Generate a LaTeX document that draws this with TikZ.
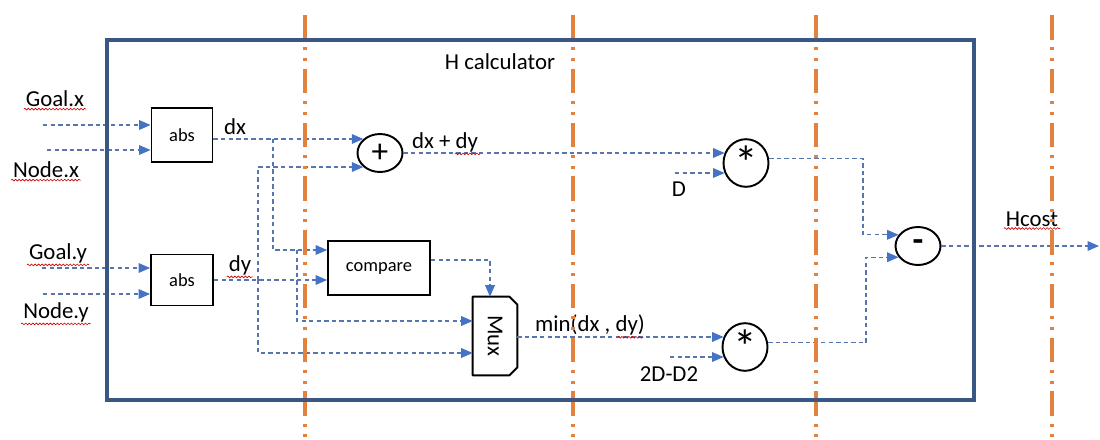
\documentclass[tikz,border=0pt]{standalone}
\usepackage{fontspec}
\setmainfont{Carlito}
\usetikzlibrary{arrows.meta, shapes.geometric, decorations.pathmorphing, calc}
\definecolor{wireblue}{RGB}{68,114,196}
\definecolor{frameblue}{RGB}{58,86,131}
\definecolor{guideorange}{RGB}{226,130,62}

\begin{document}
\begin{tikzpicture}[x=0.02cm, y=-0.02cm,
    blk/.style={draw, line width=1.1pt, inner sep=0pt, font=\fontsize{10.5}{12}\selectfont},
    op/.style={draw, ellipse, line width=1.1pt, minimum width=0.9cm, minimum height=0.76cm, inner sep=0pt, font=\fontsize{19}{19}\selectfont},
    lbl/.style={font=\fontsize{13}{15}\selectfont, inner sep=1pt},
    sig/.style={draw=wireblue!70!gray, line width=0.6pt, dash pattern=on 2.5pt off 1.8pt,
      -{Triangle[length=6.5pt, width=5.5pt, color=wireblue]}},
    spell/.style={draw=red!80!black, line width=0.35pt, decorate, decoration={snake, amplitude=0.5pt, segment length=2pt}},
    guide/.style={draw=guideorange, line width=1.8pt, dash pattern=on 14pt off 4.4pt on 1.7pt off 4.4pt on 1.7pt off 4.4pt},
    frame/.style={draw=frameblue, line width=2.2pt}]
    \useasboundingbox (0,0) rectangle (1100,440);

    % Blocks
    \node[blk, minimum width=1.22cm, minimum height=1.08cm] (absx) at (182,135) {abs};
    \node[blk, minimum width=1.24cm, minimum height=1.02cm] (absy) at (182,280) {abs};
    \node[blk, minimum width=2.04cm, minimum height=1.08cm] (cmp) at (379,268) {compare};
    \node[inner sep=0pt, minimum width=0.88cm, minimum height=1.56cm, font=\fontsize{13}{15}\selectfont] (mux) at (495,336) {\rotatebox{-90}{Mux}};
    \draw[line width=1.1pt, line join=round] (mux.north west) -- ($(mux.north east)+(-8,0)$) -- ($(mux.north east)+(0,8)$)
      -- ($(mux.south east)+(0,-8)$) -- ($(mux.south east)+(-8,0)$) -- (mux.south west) -- cycle;
    \node[op] (plus) at (380,153) {+};
    \node[op, font=\fontsize{27}{27}\selectfont] (star1) at (746,163) {\raisebox{-0.42ex}{*}};
    \node[op, font=\fontsize{27}{27}\selectfont] (star2) at (745,347) {\raisebox{-0.42ex}{*}};
    \node[op, font=\fontsize{20}{20}\selectfont\bfseries] (minus) at (918,246) {-};

    % Labels
    \node[lbl] (title) at (500,62) {H calculator};
    \node[lbl] (goalx) at (55,99) {Goal.x};
    \node[lbl] (nodex) at (46,170) {Node.x};
    \node[lbl] (goaly) at (58,253) {Goal.y};
    \node[lbl] (nodey) at (56,312) {Node.y};
    \node[lbl] (dxl) at (235,127) {dx};
    \node[lbl] (dyl) at (240,265) {dy};
    \node[lbl] (sum) at (445,142) {dx + dy};
    \node[lbl] (minl) at (590,325) {min(dx , dy)};
    \node[lbl] (dl) at (679,189) {D};
    \node[lbl] (ddl) at (669,374) {2D-D2};
    \node[lbl] (hcost) at (1032,219) {Hcost};

    % Inputs
    \coordinate (gxin) at (43,125);
    \coordinate (nxin) at (47,150);
    \coordinate (gyin) at (42,268);
    \coordinate (nyin) at (43,294);
    \draw[sig] (gxin) -- (gxin -| absx.west);
    \draw[sig] (nxin) -- (nxin -| absx.west);
    \draw[sig] (gyin) -- (gyin -| absy.west);
    \draw[sig] (nyin) -- (nyin -| absy.west);

    % dx, dy and compare
    \draw[sig] (absx.east |- plus.140) -- (plus.140);
    \coordinate (jdx) at (273,0 |- plus.140);
    \coordinate (cmpin) at ([yshift=0.36cm]cmp.west);
    \draw[sig] (jdx) |- (cmpin);
    \draw[sig] (absy.east) -- (absy.east -| cmp.west);
    \coordinate (jdy) at (258,0 |- absy.east);
    \draw[sig] (jdy) |- (plus.220);

    % Mux
    \coordinate (muxin1) at ([yshift=0.3cm]mux.west);
    \coordinate (muxin2) at ([yshift=-0.34cm]mux.west);
    \coordinate (jcmp) at (297,0 |- cmpin);
    \draw[sig] (jcmp) |- (muxin1);
    \draw[sig] (jdy) |- (muxin2);
    \draw[sig] ([yshift=0.16cm]cmp.east) -| ([xshift=-0.1cm]mux.north);

    % Products and difference
    \draw[sig] (plus.east |- star1.155) -- (star1.155);
    \coordinate (din) at (675,0 |- star1.205);
    \draw[sig] (din) -- (star1.205);
    \draw[sig] (mux.east |- star2.155) -- (star2.155);
    \coordinate (ddin) at (670,0 |- star2.205);
    \draw[sig] (ddin) -- (star2.205);
    \coordinate (k1) at (863,0 |- star1.10);
    \draw[sig] (star1.10) -- (k1) |- (minus.150);
    \coordinate (k2) at (866,0 |- star2.10);
    \draw[sig] (star2.10) -- (k2) |- (minus.210);
    \coordinate (hout) at (1099,0 |- minus.east);
    \draw[sig] (minus.east) -- (hout);

    % Spelling marks
    \foreach \w in {goalx, nodex, goaly, nodey, dyl, hcost}
      \draw[spell] (\w.south west) -- (\w.south east);
    \draw[spell] ($(sum.south west)!0.64!(sum.south east)$) -- (sum.south east);
    \draw[spell] ($(minl.south west)!0.74!(minl.south east)$) -- ($(minl.south west)!0.97!(minl.south east)$);

    % Orange guides and frame
    \foreach \x in {305, 573, 816, 1052}
      \draw[guide] (\x,15) -- (\x,440);
    \draw[frame] (107,40) rectangle (974,400);
\end{tikzpicture}
\end{document}
